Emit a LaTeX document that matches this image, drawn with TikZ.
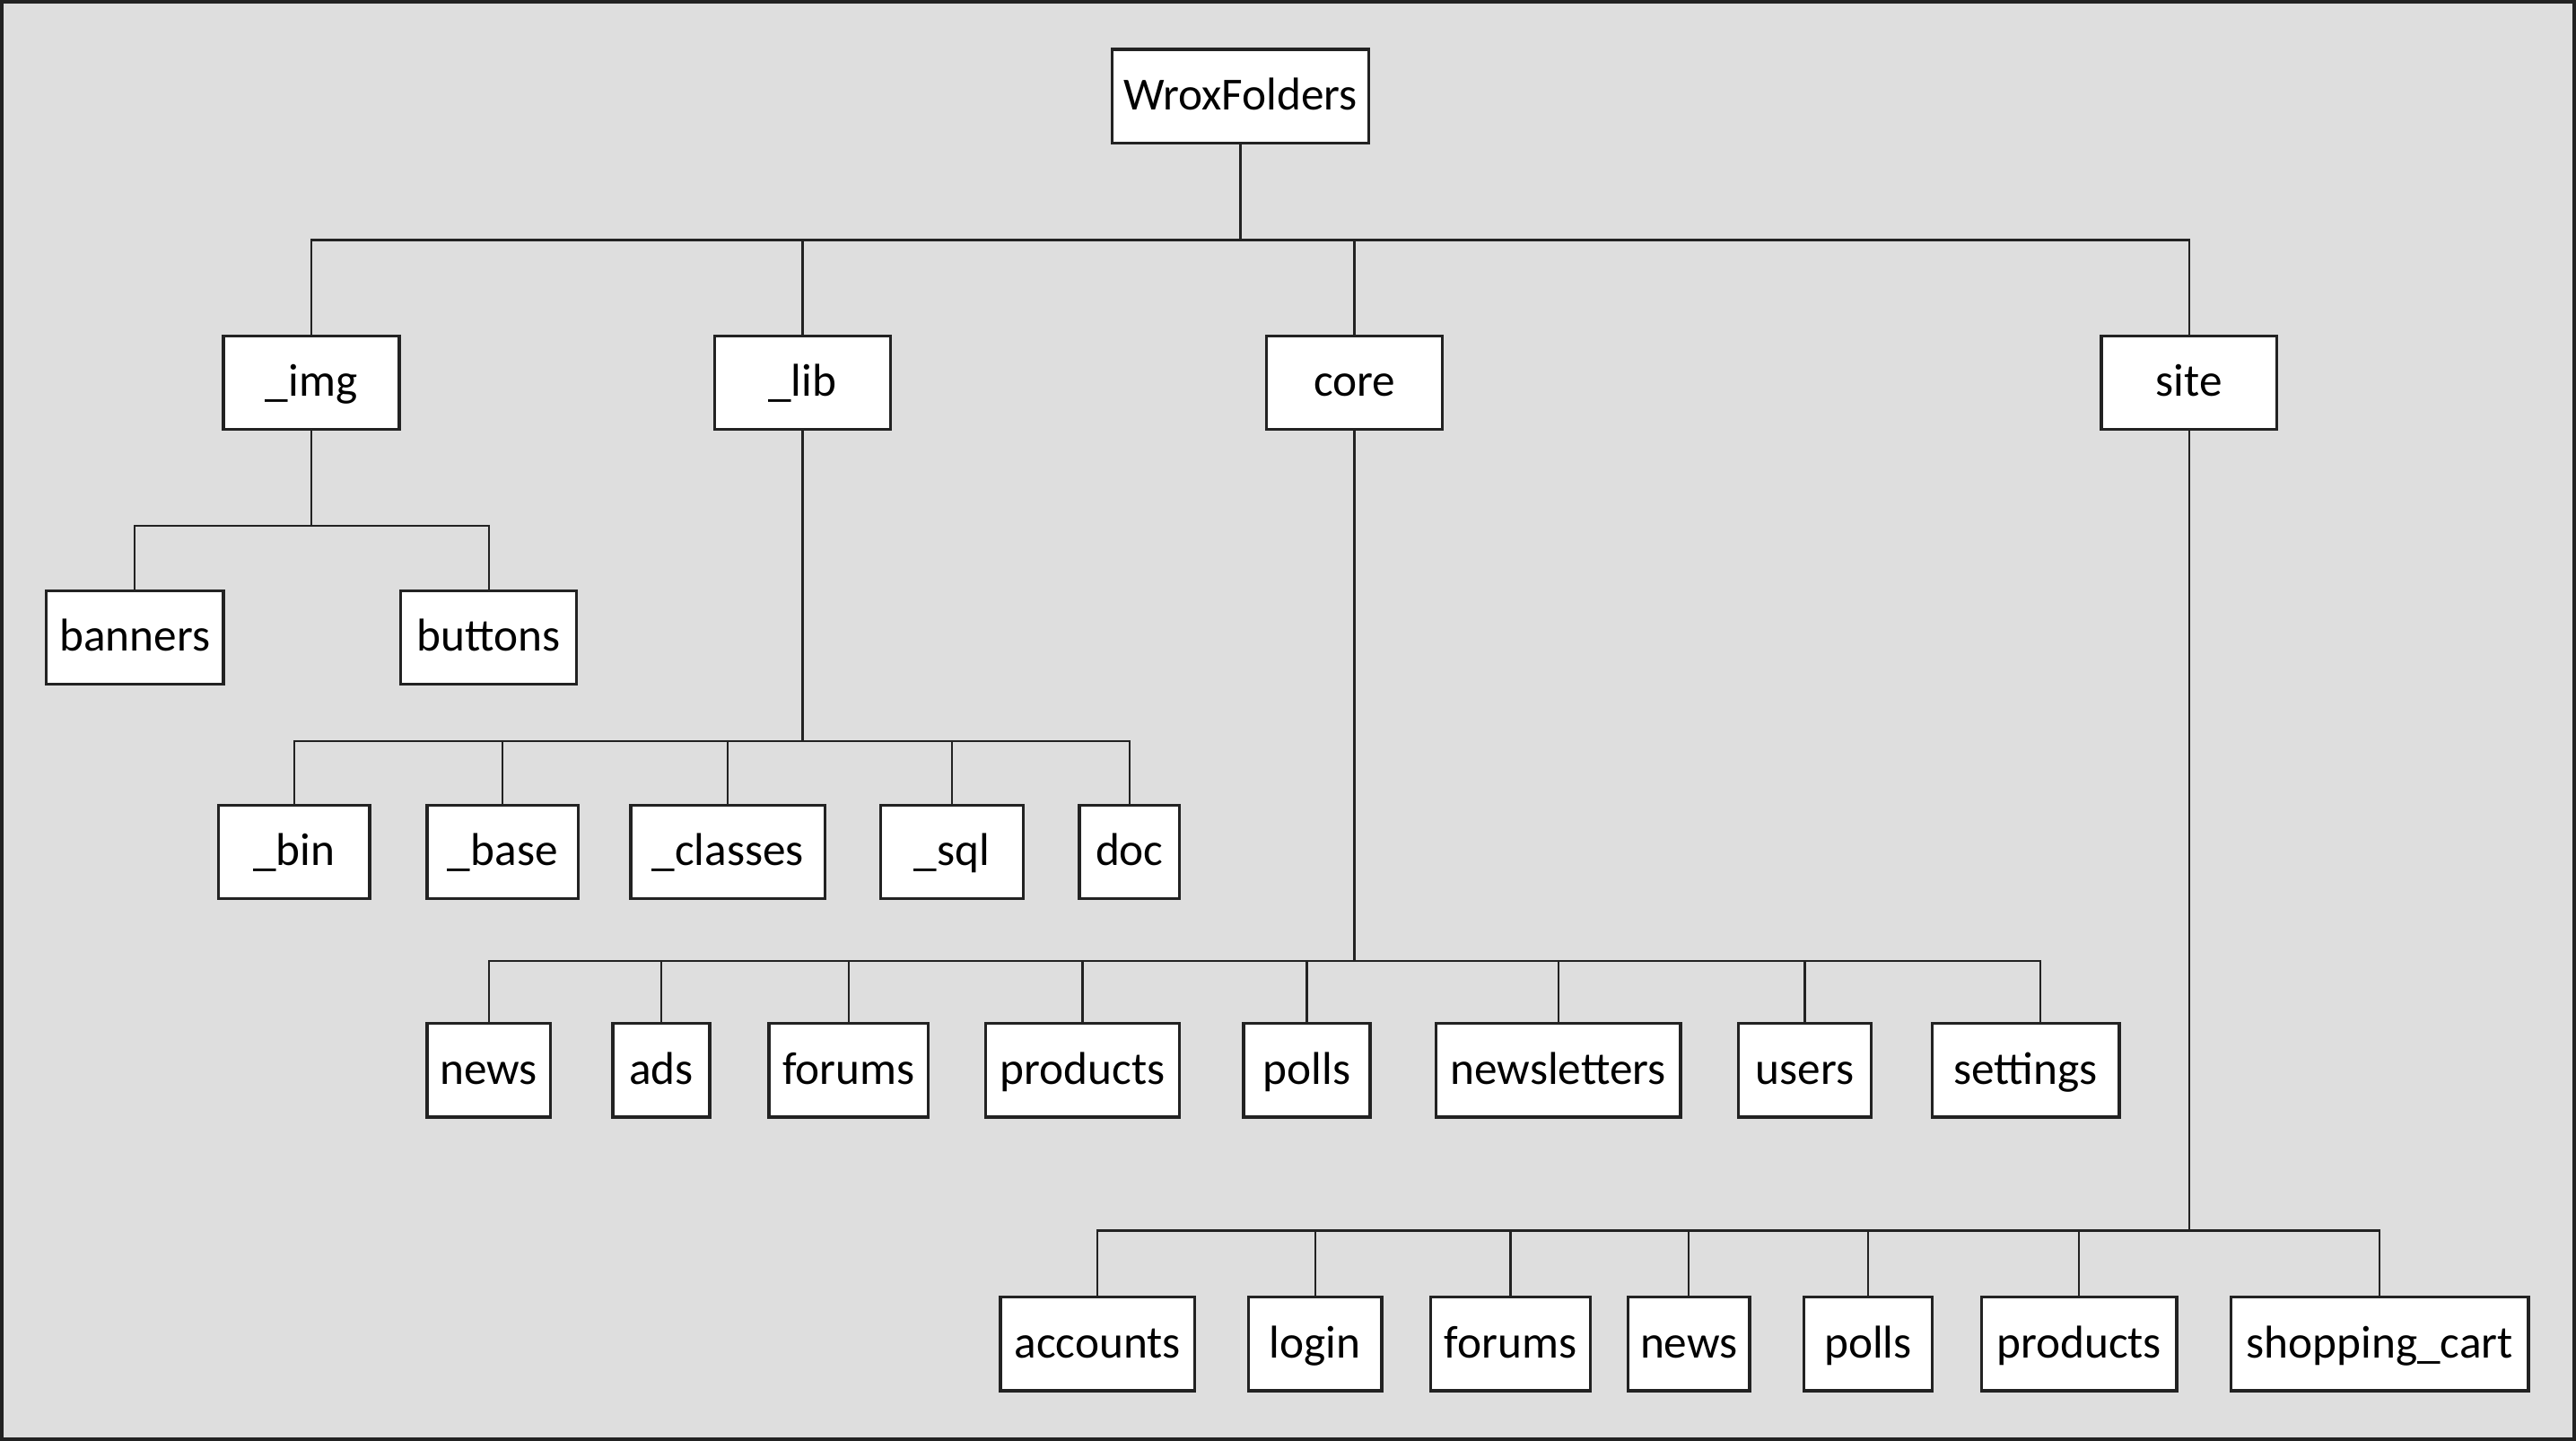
\documentclass[tikz,border=0pt]{standalone}
\usepackage{fontspec}
\setmainfont{Carlito}
\definecolor{panel}{HTML}{DEDEDE}
\definecolor{ink}{HTML}{222222}

\begin{document}
\begin{tikzpicture}[x=0.5pt,y=-0.5pt,
	folder/.style={draw=ink,fill=white,line width=0.9pt,minimum height=28.5pt,
		inner xsep=2pt,text height=1.85ex,text depth=0.1ex,
		font=\fontsize{14pt}{16pt}\selectfont},
	branch/.style={draw=ink,line width=0.65pt}
	]
	\useasboundingbox (0,0) rectangle (1568,877);
	\draw[fill=panel,draw=ink,line width=1pt] (1,1) rectangle (1567,876);

	% root and first level
	\node[folder,minimum width=78pt] (root) at (755,58.5) {WroxFolders};
	\node[folder,minimum width=53.5pt] (img) at (189.5,233) {\_img};
	\node[folder,minimum width=53.5pt] (lib) at (488.5,233) {\_lib};
	\node[folder,minimum width=53.5pt] (core) at (824.5,233) {core};
	\node[folder,minimum width=53.5pt] (site) at (1332.5,233) {site};

	% _img
	\node[folder,minimum width=54pt] (banners) at (82,388) {banners};
	\node[folder,minimum width=53.5pt] (buttons) at (297.5,388) {buttons};

	% _lib
	\node[folder,minimum width=46pt] (bin) at (179,518.5) {\_bin};
	\node[folder,minimum width=46pt] (base) at (306,518.5) {\_base};
	\node[folder,minimum width=59pt] (classes) at (443,518.5) {\_classes};
	\node[folder,minimum width=43.5pt] (sql) at (579.5,518.5) {\_sql};
	\node[folder,minimum width=30.5pt] (doc) at (687.5,518.5) {doc};

	% core
	\node[folder,minimum width=37.5pt] (cnews) at (297.5,651.5) {news};
	\node[folder,minimum width=29.5pt] (cads) at (402.5,651.5) {ads};
	\node[folder,minimum width=48.5pt] (cforums) at (516.5,651.5) {forums};
	\node[folder,minimum width=59pt] (cproducts) at (659,651.5) {products};
	\node[folder,minimum width=38.5pt] (cpolls) at (795.5,651.5) {polls};
	\node[folder,minimum width=74.5pt] (cnewsletters) at (948.5,651.5) {newsletters};
	\node[folder,minimum width=40.5pt] (cusers) at (1098.5,651.5) {users};
	\node[folder,minimum width=57pt] (csettings) at (1233,651.5) {settings};

	% site
	\node[folder,minimum width=59pt] (saccounts) at (668,818) {accounts};
	\node[folder,minimum width=40.5pt] (slogin) at (800.5,818) {login};
	\node[folder,minimum width=48.5pt] (sforums) at (919.5,818) {forums};
	\node[folder,minimum width=37pt] (snews) at (1028,818) {news};
	\node[folder,minimum width=39pt] (spolls) at (1137,818) {polls};
	\node[folder,minimum width=59.5pt] (sproducts) at (1265.5,818) {products};
	\node[folder,minimum width=90.5pt] (scart) at (1448.5,818) {shopping\_cart};

	% buses
	\coordinate (rootbus) at (755,146);
	\coordinate (imgbus) at (189.5,320);
	\coordinate (libbus) at (488.5,451);
	\coordinate (corebus) at (824.5,585);
	\coordinate (sitebus) at (1332.5,749);

	\draw[branch] (root) -- (rootbus);
	\draw[branch] (img.north) |- (rootbus) -| (site.north);
	\draw[branch] (lib.north) -- (lib.north |- rootbus);
	\draw[branch] (core.north) -- (core.north |- rootbus);

	\draw[branch] (img) -- (imgbus);
	\draw[branch] (banners.north) |- (imgbus) -| (buttons.north);

	\draw[branch] (lib) -- (libbus);
	\draw[branch] (bin.north) |- (libbus) -| (doc.north);
	\foreach \n in {base,classes,sql}
		\draw[branch] (\n.north) -- (\n.north |- libbus);

	\draw[branch] (core) -- (corebus);
	\draw[branch] (cnews.north) |- (corebus) -| ([xshift=4.5pt]csettings.north);
	\foreach \n in {cads,cforums,cproducts,cpolls,cnewsletters,cusers}
		\draw[branch] (\n.north) -- (\n.north |- corebus);

	\draw[branch] (site) -- (sitebus);
	\draw[branch] (saccounts.north) |- (sitebus) -| (scart.north);
	\foreach \n in {slogin,sforums,snews,spolls,sproducts}
		\draw[branch] (\n.north) -- (\n.north |- sitebus);
\end{tikzpicture}
\end{document}
